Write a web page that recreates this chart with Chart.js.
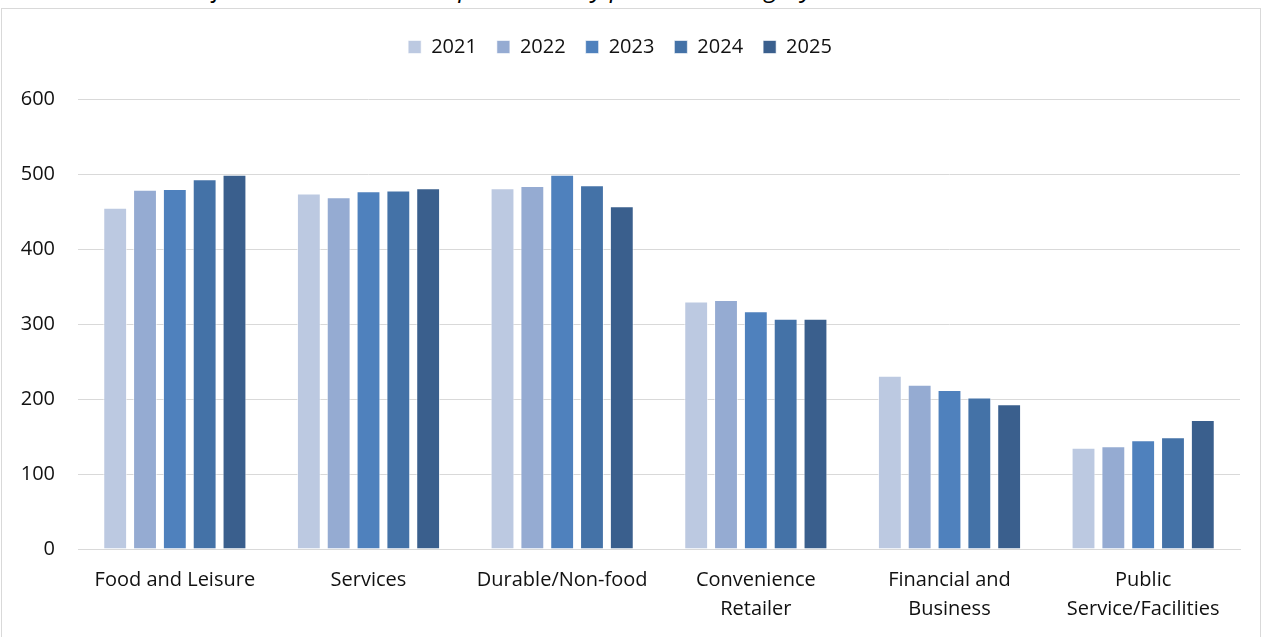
<!DOCTYPE html>
<html>
<head>
<meta charset="utf-8">
<script src="https://cdn.jsdelivr.net/npm/chart.js@4"></script>
<style>
  html, body { margin: 0; padding: 0; overflow: hidden; background: #fff; }
  #title {
    position: absolute; left: 8px; top: -30px; height: 26px; line-height: 26px;
    font: italic 25px "Open Sans", sans-serif; color: #000; white-space: nowrap;
  }
  #frame {
    position: absolute; left: 1px; top: 8px; width: 1260px; height: 640px;
    border: 1px solid #d9d9d9; box-sizing: border-box;
  }
  #wrap { position: absolute; left: 0; top: 0; width: 1264px; height: 637px; }
</style>
</head>
<body>
<div id="title">Chart 4: Number of visits to services and purchases by purchase category 2021 – 2025</div>
<div id="frame"></div>
<div id="wrap"><canvas id="chart"></canvas></div>
<script>
// categories and series
const categories = [
    'Food and Leisure',
    'Services',
    'Durable/Non-food',
    ['Convenience', 'Retailer'],
    ['Financial and', 'Business'],
    ['Public', 'Service/Facilities']
];
const years = ['2021', '2022', '2023', '2024', '2025'];
const values2021 = [455, 474, 481, 330, 231, 135];
const values2022 = [479, 469, 484, 332, 219, 137];
const values2023 = [480, 477, 499, 317, 212, 145];
const values2024 = [493, 478, 485, 307, 202, 149];
const values2025 = [499, 481, 457, 307, 193, 172];
const yTicks = [0, 100, 200, 300, 400, 500, 600];

const seriesValues = [values2021, values2022, values2023, values2024, values2025];
const seriesColors = ['#bcc9e1', '#95abd2', '#4f81bd', '#4472a7', '#3a5f8d'];

const FONT = '"Open Sans", Lato, sans-serif';
const TEXT = '#111111';
const GRID = '#d9d9d9';

// leave room between the legend and the plot, as in the reference
const legendGap = {
    id: 'legendGap',
    afterInit(chart) {
        const legend = chart.legend;
        if (!legend) return;
        const fit = legend.fit;
        legend.fit = function () {
            fit.call(this);
            this.height += 32;
        };
    }
};

const ctx = document.getElementById('chart').getContext('2d');
new Chart(ctx, {
    type: 'bar',
    data: {
        labels: categories,
        datasets: years.map((year, i) => ({
            label: year,
            data: seriesValues[i],
            backgroundColor: seriesColors[i],
            borderColor: 'rgba(255,255,255,0.6)',
            borderWidth: 1,
            categoryPercentage: 0.77,
            barPercentage: 0.8
        }))
    },
    plugins: [legendGap],
    options: {
        responsive: true,
        maintainAspectRatio: false,
        animation: false,
        layout: { padding: { left: 0, right: 24, top: 17, bottom: 0 } },
        plugins: {
            legend: {
                position: 'top',
                labels: {
                    boxWidth: 13,
                    boxHeight: 13,
                    padding: 20,
                    color: TEXT,
                    font: { family: FONT, size: 20 }
                }
            },
            tooltip: { enabled: false }
        },
        scales: {
            x: {
                grid: { display: false, drawTicks: false },
                border: { display: true, color: GRID, width: 1 },
                ticks: {
                    color: TEXT,
                    padding: 17,
                    maxRotation: 0,
                    autoSkip: false,
                    font: { family: FONT, size: 20, lineHeight: 1.45 }
                },
                afterFit: scale => { scale.height = 88; }
            },
            y: {
                min: 0,
                max: 600,
                afterBuildTicks: scale => { scale.ticks = yTicks.map(v => ({ value: v })); },
                grid: { color: GRID, lineWidth: 1, drawTicks: false },
                border: { display: false },
                ticks: {
                    color: TEXT,
                    padding: 23,
                    font: { family: FONT, size: 20 }
                },
                afterFit: scale => { scale.width = 78; }
            }
        }
    }
});
</script>
</body>
</html>
